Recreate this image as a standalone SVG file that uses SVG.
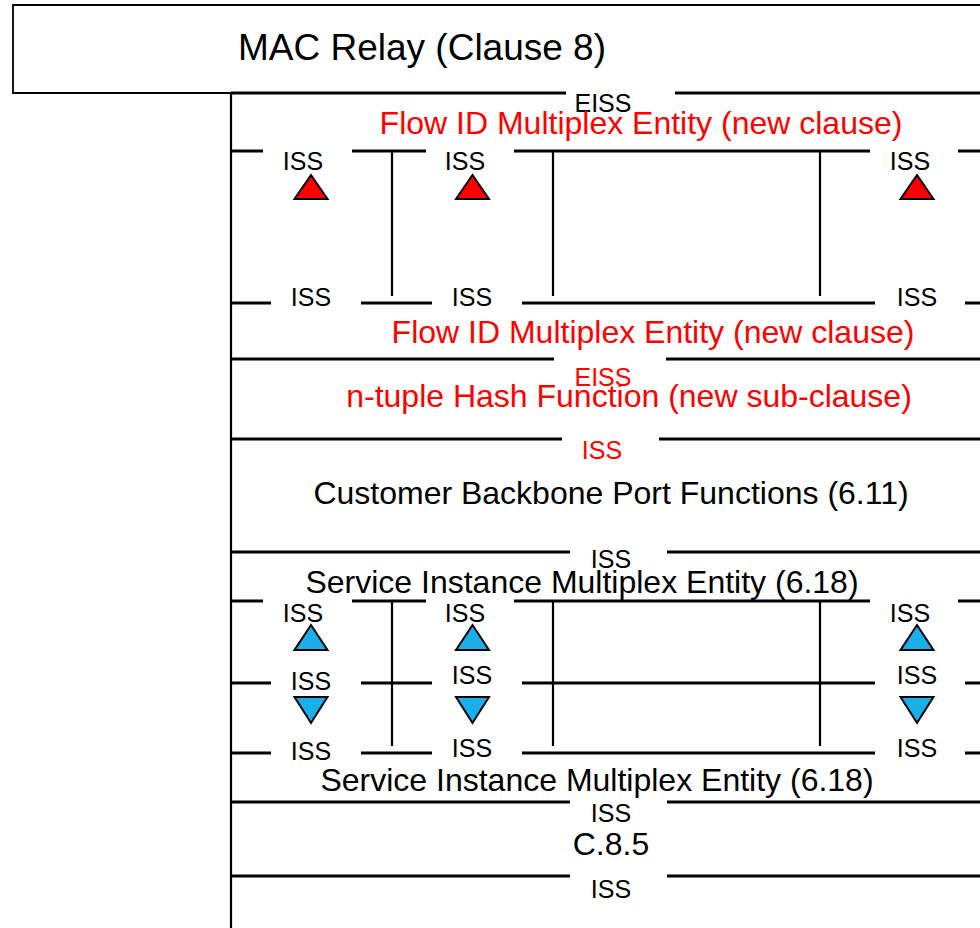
<svg xmlns="http://www.w3.org/2000/svg" width="980" height="928" viewBox="0 0 980 928">
<style>
text{font-family:"Liberation Sans",Arial,sans-serif;text-anchor:middle}
.lbl{font-size:25px;fill:#000}
.big{font-size:32px;fill:#000}
.red{fill:#ff0000}
.h{stroke:#000;stroke-width:3;fill:none}
.v{stroke:#000;stroke-width:2.2;fill:none}
.tr{fill:#ff0000;stroke:#000;stroke-width:2;stroke-linejoin:miter}
.tb{fill:#1aaeea;stroke:#000;stroke-width:2;stroke-linejoin:miter}
</style>
<rect width="980" height="928" fill="#fff"/>
<g id="mac-relay">
<path d="M990,5 H13 V93 H231" stroke="#000" stroke-width="1.8" fill="none"/>
<text x="422" y="60" style="font-size:37px">MAC Relay (Clause 8)</text>
</g>
<g id="connectors">
<path class="v" d="M231,93 V928"/>
<path class="h" d="M231,93 H566 M675,93 H980"/>
<path class="h" d="M231,151 H263 M352,151 H426 M514,151 H870 M958,151 H980"/>
<path class="h" d="M231,303 H271 M361,303 H432 M522,303 H875 M965,303 H980"/>
<path class="v" d="M392,151 V296 M553,151 V296 M820,151 V296"/>
<path class="h" d="M231,359 H554 M666,359 H980"/>
<path class="h" d="M231,439 H562 M659,439 H980"/>
<path class="h" d="M231,552 H570 M667,552 H980"/>
<path class="h" d="M231,601 H263 M352,601 H426 M514,601 H870 M958,601 H980"/>
<path class="h" d="M231,683 H271 M361,683 H432 M522,683 H875 M965,683 H980"/>
<path class="h" d="M231,753 H271 M361,753 H432 M522,753 H875 M965,753 H980"/>
<path class="v" d="M392,601 V746 M553,601 V746 M820,601 V746"/>
<path class="h" d="M231,802 H570 M667,802 H980"/>
<path class="h" d="M231,876 H570 M667,876 H980"/>
</g>
<g id="flow-id-upper">
<text class="lbl" x="603" y="112">EISS</text>
<text class="big red" x="641" y="134">Flow ID Multiplex Entity (new clause)</text>
<text class="lbl" x="303" y="170">ISS</text>
<text class="lbl" x="465" y="170">ISS</text>
<text class="lbl" x="910" y="170">ISS</text>
<polygon class="tr" points="311,175 294.5,199 327.5,199"/>
<polygon class="tr" points="472.5,175 456,199 489,199"/>
<polygon class="tr" points="917,175 900.5,199 933.5,199"/>
<text class="lbl" x="311" y="306">ISS</text>
<text class="lbl" x="472" y="306">ISS</text>
<text class="lbl" x="917" y="306">ISS</text>
</g>
<g id="flow-id-lower">
<text class="big red" x="653" y="343">Flow ID Multiplex Entity (new clause)</text>
</g>
<g id="hash-function">
<text class="lbl red" x="603" y="386">EISS</text>
<text class="big red" x="629" y="407">n-tuple Hash Function (new sub-clause)</text>
<text class="lbl red" x="602" y="459">ISS</text>
</g>
<g id="cbp-functions">
<text class="big" x="611" y="504">Customer Backbone Port Functions (6.11)</text>
<text class="lbl" x="611" y="568">ISS</text>
</g>
<g id="sime-upper">
<text class="big" x="582" y="593">Service Instance Multiplex Entity (6.18)</text>
<text class="lbl" x="303" y="622">ISS</text>
<text class="lbl" x="465" y="622">ISS</text>
<text class="lbl" x="910" y="622">ISS</text>
<polygon class="tb" points="311,625 294.5,650 327.5,650"/>
<polygon class="tb" points="472.5,625 456,650 489,650"/>
<polygon class="tb" points="917,625 900.5,650 933.5,650"/>
<text class="lbl" x="311" y="690">ISS</text>
<text class="lbl" x="472" y="684">ISS</text>
<text class="lbl" x="917" y="684">ISS</text>
<polygon class="tb" points="294.5,697 327.5,697 311,723"/>
<polygon class="tb" points="456,697 489,697 472.5,723"/>
<polygon class="tb" points="900.5,697 933.5,697 917,723"/>
<text class="lbl" x="311" y="760">ISS</text>
<text class="lbl" x="472" y="757">ISS</text>
<text class="lbl" x="917" y="757">ISS</text>
</g>
<g id="sime-lower">
<text class="big" x="597" y="791">Service Instance Multiplex Entity (6.18)</text>
<text class="lbl" x="611" y="822">ISS</text>
</g>
<g id="c85">
<text class="big" x="611" y="855">C.8.5</text>
<text class="lbl" x="611" y="898">ISS</text>
</g>
</svg>
